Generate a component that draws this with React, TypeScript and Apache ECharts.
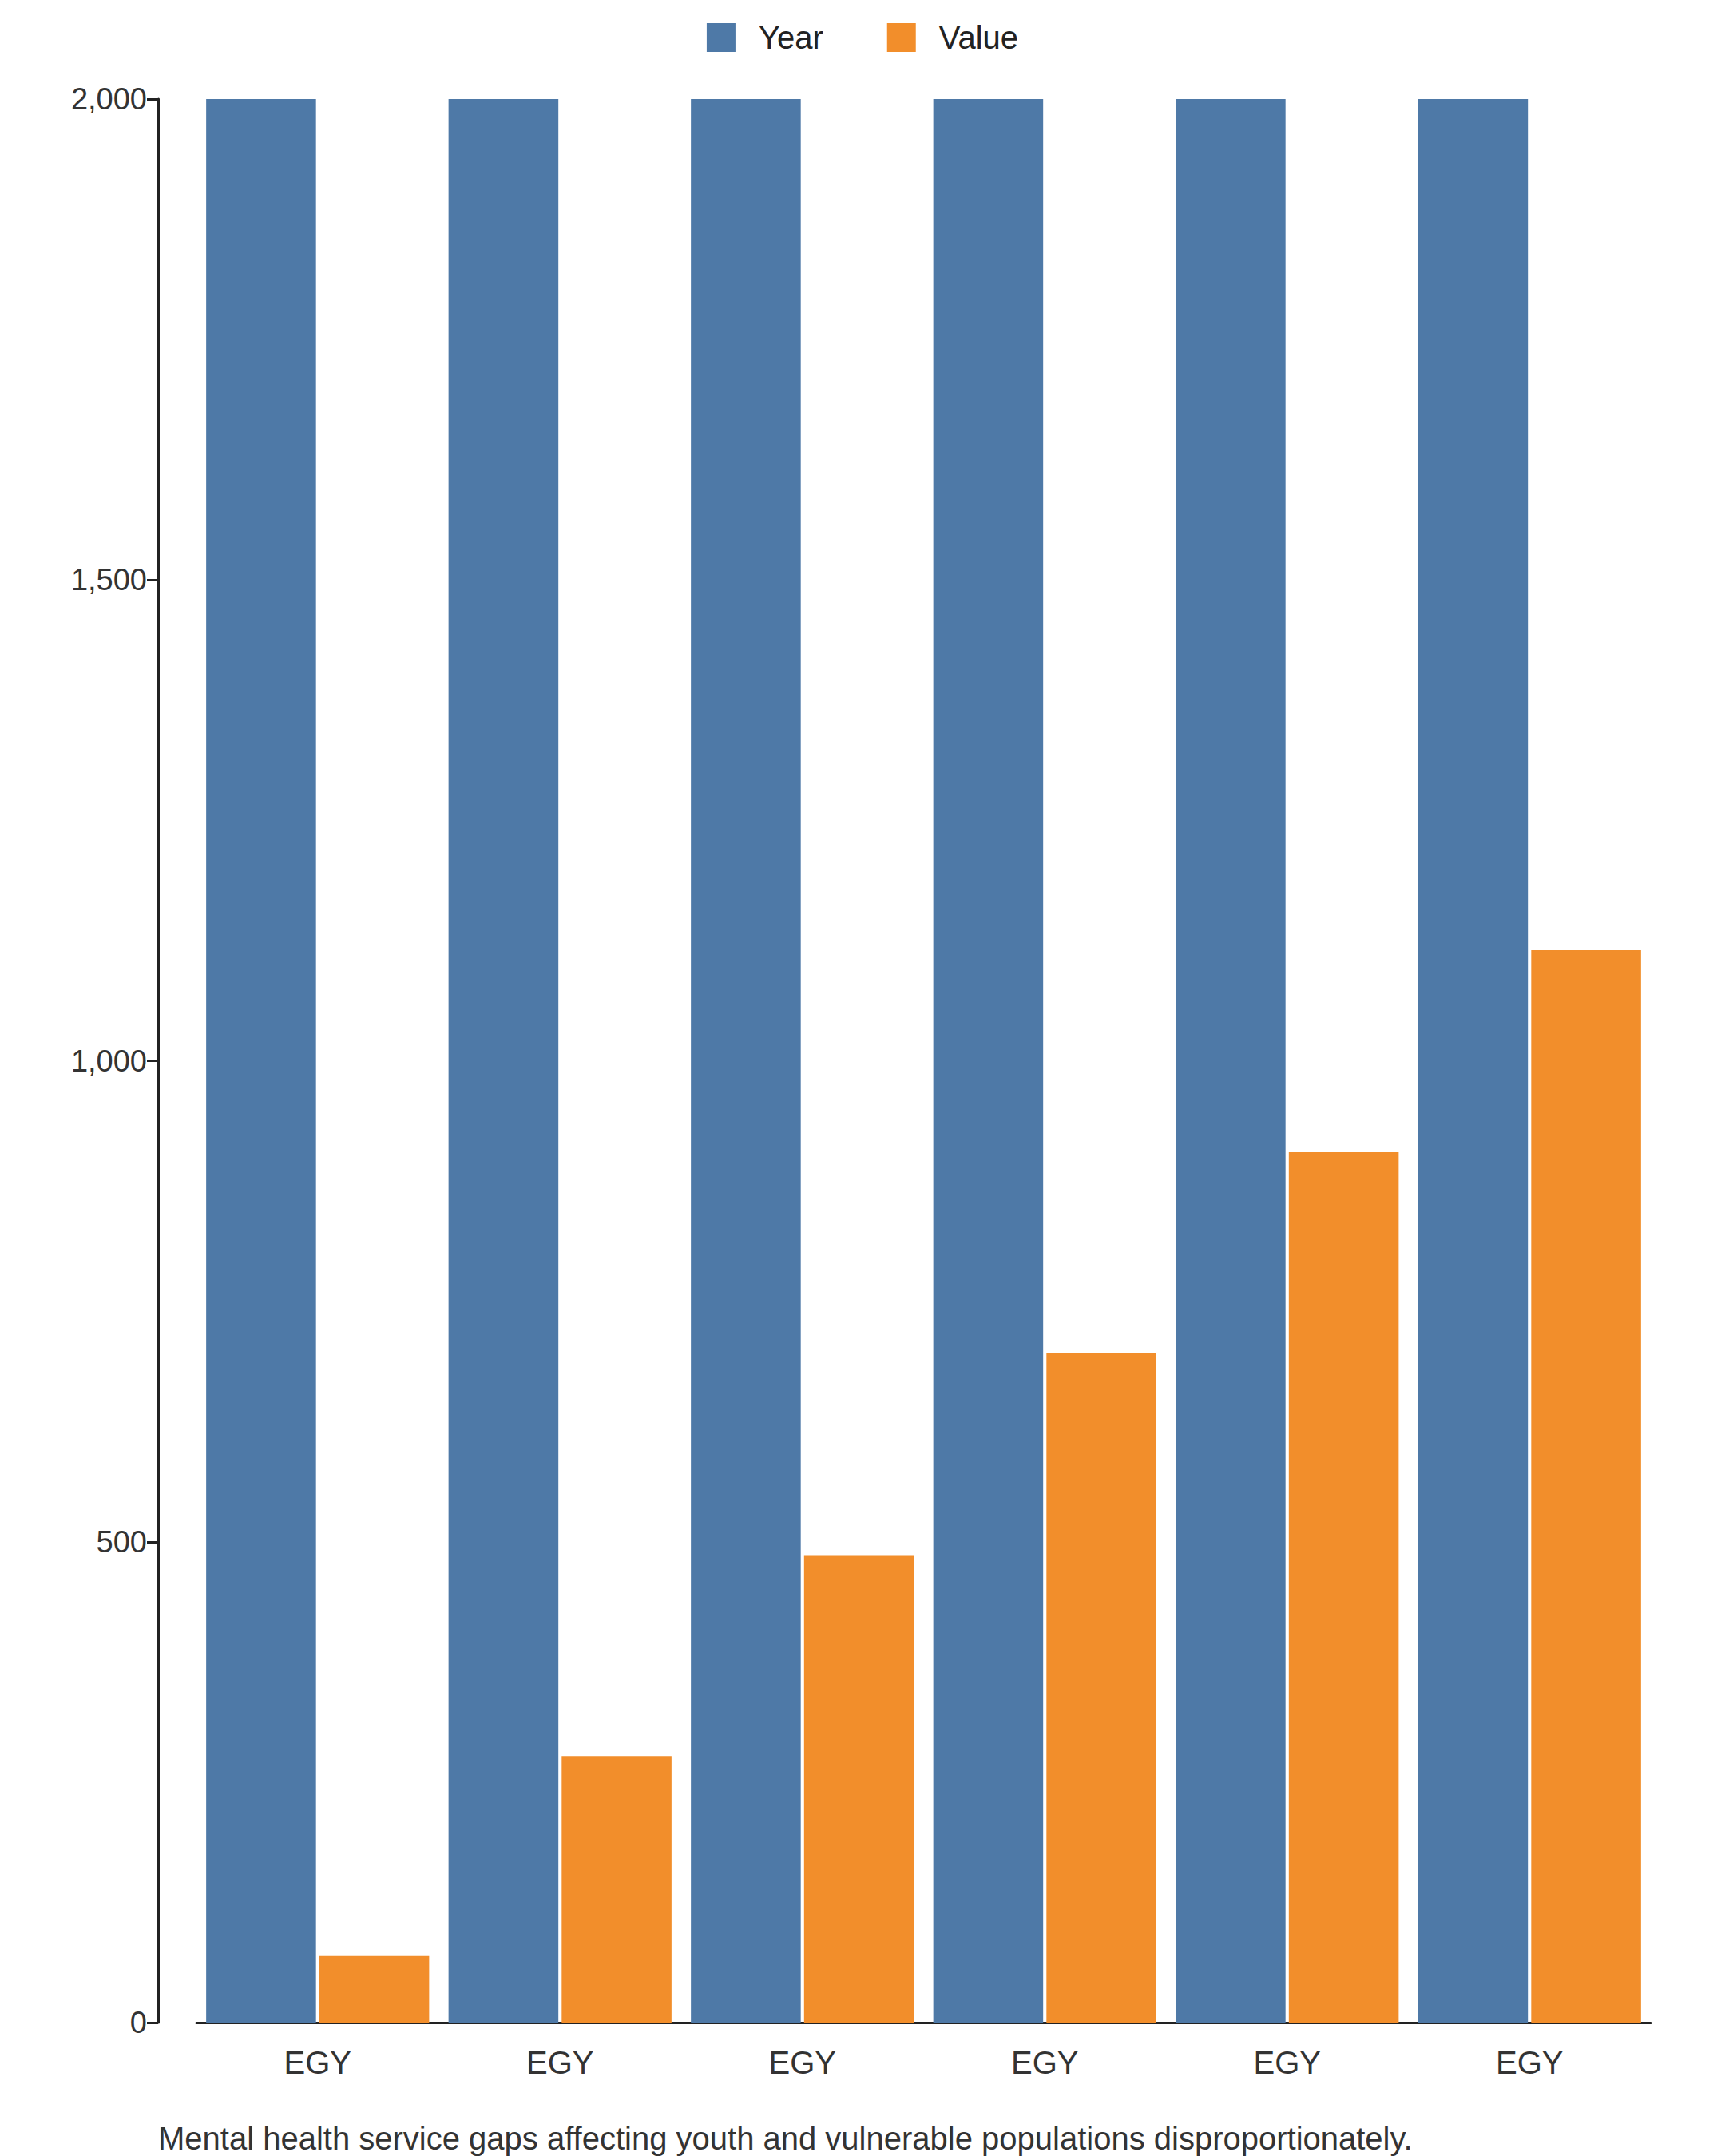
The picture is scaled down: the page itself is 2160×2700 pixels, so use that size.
import React, { useEffect, useRef } from "react";
import * as echarts from "echarts";

const categories = ["EGY", "EGY", "EGY", "EGY", "EGY", "EGY"];
const yearValues = [2008, 2009, 2010, 2011, 2012, 2013];
const valueValues = [70, 277, 486, 696, 905, 1115];
const yTicks = [0, 500, 1000, 1500, 2000];

const App: React.FC = () => {
  const chartRef = useRef<HTMLDivElement>(null);

  useEffect(() => {
    const dom = chartRef.current;
    if (!dom) return;
    const chart = echarts.init(dom, undefined, { renderer: "svg" });
    const font = "Liberation Sans, Arial, sans-serif";
    chart.setOption({
      animation: false,
      textStyle: { fontFamily: font },
      legend: {
        data: ["Year", "Value"],
        top: 14,
        left: "center",
        itemWidth: 36,
        itemHeight: 36,
        itemGap: 80,
        icon: "rect",
        textStyle: { fontSize: 40, color: "#222", padding: [0, 0, 0, 24] },
      },
      grid: { left: 238, right: 85, top: 116, bottom: 175 },
      xAxis: {
        type: "category",
        data: categories,
        axisLine: { lineStyle: { color: "#222", width: 3 } },
        axisTick: { length: 20, lineStyle: { color: "#222", width: 3 } },
        axisLabel: { fontSize: 40, color: "#333", margin: 30 },
      },
      yAxis: {
        type: "value",
        min: 0,
        max: 2000,
        interval: 500,
        offset: 48,
        splitLine: { show: false },
        axisLine: { show: true, lineStyle: { color: "#222", width: 3 } },
        axisTick: { show: true, length: 14, lineStyle: { color: "#222", width: 3 } },
        axisLabel: {
          fontSize: 38,
          color: "#333",
          margin: 14,
          formatter: (v: number) =>
            yTicks.includes(v) ? v.toLocaleString("en-US") : "",
        },
      },
      series: [
        {
          name: "Year",
          type: "bar",
          data: yearValues,
          barGap: "3%",
          barCategoryGap: "8%",
          itemStyle: { color: "#4e79a7" },
        },
        {
          name: "Value",
          type: "bar",
          data: valueValues,
          itemStyle: { color: "#f28e2b" },
        },
      ],
      graphic: [
        {
          type: "text",
          left: 190,
          top: 2650,
          style: {
            text: "Mental health service gaps affecting youth and vulnerable populations disproportionately.",
            fontSize: 40,
            fill: "#333",
            fontFamily: font,
          },
        },
      ],
    });
    return () => chart.dispose();
  }, []);

  return <div ref={chartRef} style={{ width: 2144, height: 2700 }} />;
};

export default App;
